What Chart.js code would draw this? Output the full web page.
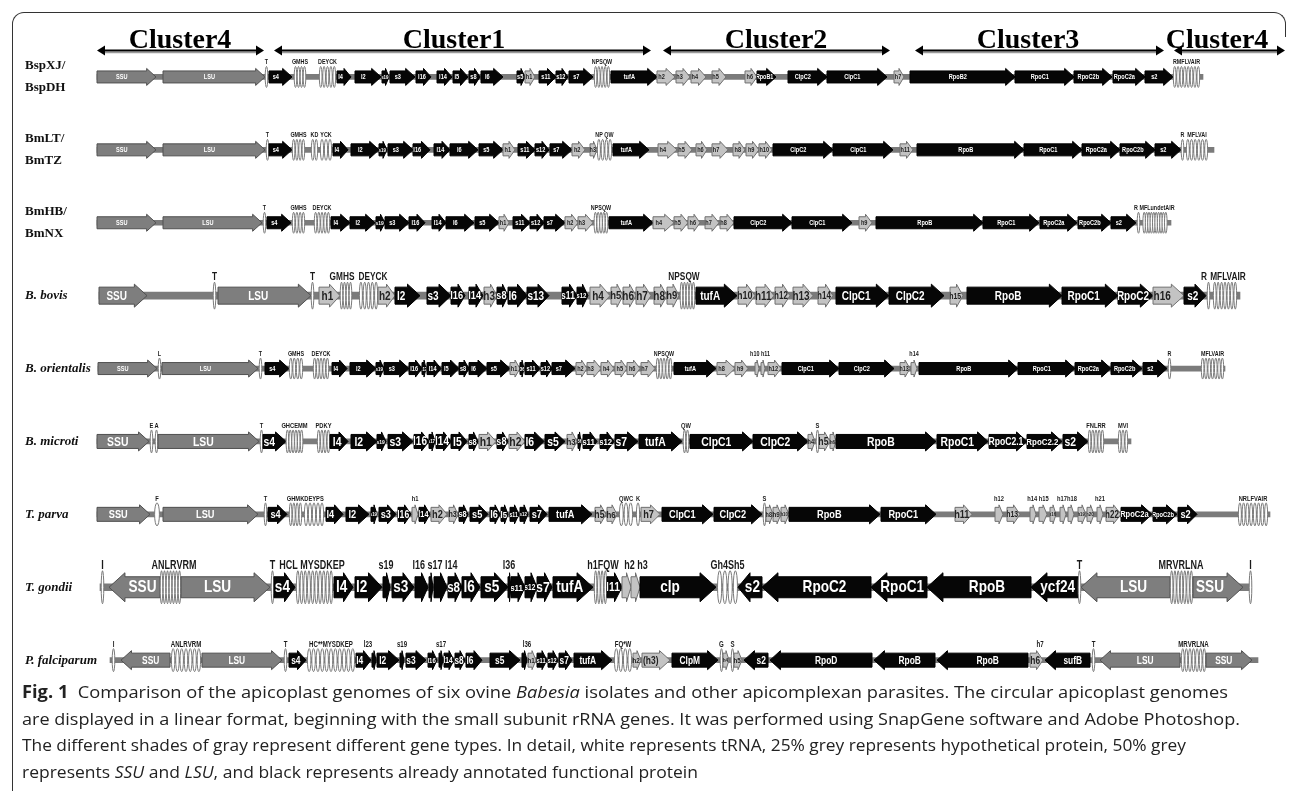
<!DOCTYPE html>
<html>
<head>
<meta charset="utf-8">
<script src="https://cdn.jsdelivr.net/npm/chart.js@4.4.1/dist/chart.umd.min.js"></script>
<style>
  html, body { margin: 0; padding: 0; background: #fff; }
  body { width: 1292px; height: 791px; position: relative; overflow: hidden; }
  #frameTop { position: absolute; left: 12px; top: 12px; width: 1272px; height: 24px; border: 1.5px solid #333; border-bottom: none; border-radius: 12px 12px 0 0; }
  #frameLeft { position: absolute; left: 12px; top: 30px; width: 0; height: 780px; border-left: 1.5px solid #333; }
  #wrap { position: absolute; left: 0; top: 0; width: 1292px; height: 700px; }
  #cap { position: absolute; left: 22px; top: 679px; font-family: "Open Sans", "Noto Sans", sans-serif; font-size: 17px; line-height: 26.5px; color: #222; }
  #cap div { white-space: nowrap; transform-origin: 0 50%; }
</style>
</head>
<body>
<div id="frameTop"></div>
<div id="frameLeft"></div>
<div id="wrap"><canvas id="map" width="1292" height="700"></canvas></div>
<div id="cap">
  <div><b>Fig. 1</b>&nbsp;&nbsp;Comparison of the apicoplast genomes of six ovine <i>Babesia</i> isolates and other apicomplexan parasites. The circular apicoplast genomes</div>
  <div>are displayed in a linear format, beginning with the small subunit rRNA genes. It was performed using SnapGene software and Adobe Photoshop.</div>
  <div>The different shades of gray represent different gene types. In detail, white represents tRNA, 25% grey represents hypothetical protein, 50% grey</div>
  <div>represents <i>SSU</i> and <i>LSU</i>, and black represents already annotated functional protein</div>
</div>
<script>
(function () {

  // ---- data (positions in map units) ----
  var rowLabels = [['BspXJ/', 'BspDH'], ['BmLT/', 'BmTZ'], ['BmHB/', 'BmNX'],
    'B. bovis', 'B. orientalis', 'B. microti', 'T. parva', 'T. gondii', 'P. falciparum'];

  var clusterNames = ['Cluster4', 'Cluster1', 'Cluster2', 'Cluster3', 'Cluster4'];
  var clusterStarts = [97, 274, 663, 915, 1174];
  var clusterEnds = [264, 651, 890, 1164, 1285];
  var clusterLabelAt = [180, 454, 776, 1028, 1217];

  // backbone extent per row
  var rowSpans = [[97, 1203], [97, 1214], [97, 1171], [99, 1240], [98, 1225],
    [97, 1131], [97, 1270], [100, 1251], [110, 1258]];

  // [name, start, end, type, strand|count, 'n' = name given in the notes above | label centre]
  // type: r = rRNA, k = annotated protein, h = hypothetical, t = tRNA group
  var gBspXJ = [
    ['SSU', 97, 156, 'r', 1], ['LSU', 163, 265, 'r', 1], ['T', 265, 268, 't', 1],
    ['s4', 269, 292, 'k', 1], ['GMHS', 294, 306, 't', 4], ['DEYCK', 319, 336, 't', 5],
    ['l4', 337, 351, 'k', 1], ['l2', 355, 381, 'k', 1], ['s19', 382, 389, 'k', 1],
    ['s3', 390, 415, 'k', 1], ['l16', 416, 431, 'k', 1], ['l14', 437, 452, 'k', 1],
    ['l5', 453, 468, 'k', 1], ['s8', 469, 480, 'k', 1], ['l6', 481, 503, 'k', 1],
    ['s5', 517, 525, 'k', 1], ['h1', 525, 535, 'h', 1], ['s11', 539, 556, 'k', 1],
    ['s12', 556, 568, 'k', 1], ['s7', 569, 593, 'k', 1], ['NPSQW', 594, 610, 't', 5],
    ['tufA', 611, 657, 'k', 1], ['h2', 657, 675, 'h', 1], ['h3', 676, 690, 'h', 1],
    ['h4', 691, 706, 'h', 1], ['h5', 712, 726, 'h', 1], ['h6', 745, 757, 'h', 1],
    ['RpoB1', 757, 776, 'k', 1], ['ClpC2', 788, 827, 'k', 1], ['ClpC1', 827, 887, 'k', 1],
    ['h7', 894, 904, 'h', 1], ['RpoB2', 910, 1015, 'k', 1], ['RpoC1', 1015, 1074, 'k', 1],
    ['RpoC2b', 1074, 1112, 'k', 1], ['RpoC2a', 1113, 1145, 'k', 1], ['s2', 1145, 1173, 'k', 1],
    ['RMFLVAIR', 1173, 1200, 't', 8]
  ];
  var gBmLT = [
    ['SSU', 97, 156, 'r', 1], ['LSU', 163, 265, 'r', 1], ['T', 266, 269, 't', 1],
    ['s4', 269, 292, 'k', 1], ['GMHS', 292, 305, 't', 4], ['KD', 311, 318, 't', 2],
    ['YCK', 320, 332, 't', 3], ['l4', 333, 348, 'k', 1], ['l2', 351, 379, 'k', 1],
    ['s19', 379, 387, 'k', 1], ['s3', 388, 413, 'k', 1], ['l16', 413, 430, 'k', 1],
    ['l14', 434, 450, 'k', 1], ['l6', 450, 478, 'k', 1], ['s5', 479, 503, 'k', 1],
    ['h1', 503, 515, 'h', 1], ['s11', 518, 535, 'k', 1], ['s12', 535, 549, 'k', 1],
    ['s7', 550, 572, 'k', 1], ['h2', 572, 585, 'h', 1], ['h3', 590, 597, 'h', 1],
    ['NP QW', 597, 612, 't', 4], ['tufA', 613, 649, 'k', 1], ['h4', 658, 677, 'h', 1],
    ['h5', 678, 692, 'h', 1], ['h6', 696, 707, 'h', 1], ['h7', 712, 728, 'h', 1],
    ['h8', 733, 745, 'h', 1], ['h9', 746, 759, 'h', 1], ['h10', 759, 772, 'h', 1],
    ['ClpC2', 773, 833, 'k', 1], ['ClpC1', 833, 893, 'k', 1], ['h11', 900, 913, 'h', 1],
    ['RpoB', 917, 1024, 'k', 1], ['RpoC1', 1024, 1082, 'k', 1], ['RpoC2a', 1082, 1120, 'k', 1],
    ['RpoC2b', 1120, 1155, 'k', 1], ['s2', 1155, 1181, 'k', 1], ['R', 1181, 1184, 't', 1],
    ['MFLVAI', 1186, 1208, 't', 6]
  ];
  var gBmHB = [
    ['SSU', 97, 156, 'r', 1], ['LSU', 163, 262, 'r', 1], ['T', 263, 266, 't', 1],
    ['s4', 267, 291, 'k', 1], ['GMHS', 292, 305, 't', 4], ['DEYCK', 314, 330, 't', 5],
    ['l4', 331, 350, 'k', 1], ['l2', 350, 375, 'k', 1], ['s19', 376, 385, 'k', 1],
    ['s3', 385, 409, 'k', 1], ['l16', 409, 425, 'k', 1], ['l14', 432, 446, 'k', 1],
    ['l6', 446, 474, 'k', 1], ['s5', 475, 499, 'k', 1], ['h1', 499, 509, 'h', 1],
    ['s11', 513, 530, 'k', 1], ['s12', 530, 544, 'k', 1], ['s7', 544, 565, 'k', 1],
    ['h2', 565, 578, 'h', 1], ['h3', 578, 593, 'h', 1], ['NPSQW', 594, 608, 't', 5],
    ['tufA', 609, 653, 'k', 1], ['h4', 653, 674, 'h', 1], ['h5', 674, 688, 'h', 1],
    ['h6', 688, 700, 'h', 1], ['h7', 705, 719, 'h', 1], ['h8', 720, 734, 'h', 1],
    ['ClpC2', 734, 792, 'k', 1], ['ClpC1', 792, 852, 'k', 1], ['h9', 859, 872, 'h', 1],
    ['RpoB', 876, 983, 'k', 1], ['RpoC1', 983, 1039, 'k', 1], ['RpoC2a', 1040, 1077, 'k', 1],
    ['RpoC2b', 1078, 1111, 'k', 1], ['s2', 1111, 1136, 'k', 1], ['R', 1137, 1140, 't', 1, 1136],
    ['MFLundetAIR', 1143, 1167, 't', 10, 1157]
  ];
  var gBbovis = [
    ['SSU', 99, 147, 'r', 1], ['T', 213, 216, 't', 1], ['LSU', 218, 311, 'r', 1],
    ['T', 311, 314, 't', 1], ['h1', 319, 340, 'h', 1], ['GMHS', 340, 352, 't', 4, 342],
    ['DEYCK', 359, 378, 't', 5, 373], ['h2', 378, 395, 'h', 1], ['l2', 395, 420, 'k', 1],
    ['s3', 427, 451, 'k', 1], ['l16', 451, 465, 'k', 1], ['l14', 469, 483, 'k', 1],
    ['h3', 484, 497, 'h', 1], ['s8', 497, 508, 'k', 1], ['l6', 508, 527, 'k', 1],
    ['s13', 527, 549, 'k', 1], ['s11', 562, 577, 'k', 1], ['s12', 577, 588, 'k', 1],
    ['h4', 590, 610, 'h', 1], ['h5', 611, 623, 'h', 1], ['h6', 623, 636, 'h', 1],
    ['h7', 636, 651, 'h', 1], ['h8', 654, 667, 'h', 1], ['h9', 667, 679, 'h', 1],
    ['NPSQW', 680, 695, 't', 5, 684], ['tufA', 696, 737, 'k', 1], ['h10', 738, 755, 'h', 1],
    ['h11', 756, 774, 'h', 1], ['h12', 775, 790, 'h', 1], ['h13', 793, 813, 'h', 1],
    ['h14', 818, 833, 'h', 1], ['ClpC1', 836, 889, 'k', 1], ['ClpC2', 889, 944, 'k', 1],
    ['h15', 950, 963, 'h', 1], ['RpoB', 967, 1062, 'k', 1], ['RpoC1', 1062, 1118, 'k', 1],
    ['RpoC2', 1118, 1153, 'k', 1], ['h16', 1153, 1184, 'h', 1], ['s2', 1184, 1206, 'k', 1],
    ['R', 1207, 1210, 't', 1, 1204], ['MFLVAIR', 1213, 1237, 't', 7, 1228]
  ];
  var gBorient = [
    ['SSU', 98, 157, 'r', 1], ['L', 158, 161, 't', 1], ['LSU', 162, 258, 'r', 1],
    ['T', 259, 262, 't', 1], ['s4', 265, 289, 'k', 1], ['GMHS', 289, 303, 't', 4],
    ['DEYCK', 313, 329, 't', 5], ['l4', 332, 347, 'k', 1], ['l2', 350, 376, 'k', 1],
    ['s19', 376, 384, 'k', 1], ['s3', 384, 409, 'k', 1], ['l16', 409, 422, 'k', 1],
    ['s17', 422, 426, 'k', 1], ['l14', 427, 441, 'k', 1], ['l5', 442, 459, 'k', 1],
    ['s8', 459, 469, 'k', 1], ['l6', 469, 487, 'k', 1], ['s5', 487, 510, 'k', 1],
    ['h1', 510, 520, 'h', 1], ['l36', 520, 524, 'k', 1], ['s11', 525, 540, 'k', 1],
    ['s12', 541, 552, 'k', 1], ['s7', 552, 575, 'k', 1], ['h2', 576, 587, 'h', 1],
    ['h3', 587, 601, 'h', 1], ['h4', 601, 614, 'h', 1], ['h5', 615, 627, 'h', 1],
    ['h6', 627, 640, 'h', 1], ['h7', 641, 655, 'h', 1], ['NPSQW', 656, 672, 't', 5],
    ['tufA', 674, 716, 'k', 1], ['h8', 717, 735, 'h', 1], ['h9', 735, 748, 'h', 1],
    ['h10', 755, 759, 'h', 1, 'n'], ['h11', 761, 765, 'h', 1, 'n'], ['h12', 768, 781, 'h', 1],
    ['ClpC1', 782, 839, 'k', 1], ['ClpC2', 839, 894, 'k', 1], ['h13', 900, 910, 'h', 1],
    ['h14', 911, 917, 'h', 1, 'n'], ['RpoB', 919, 1018, 'k', 1], ['RpoC1', 1018, 1075, 'k', 1],
    ['RpoC2a', 1075, 1111, 'k', 1], ['RpoC2b', 1111, 1142, 'k', 1], ['s2', 1143, 1167, 'k', 1],
    ['R', 1168, 1171, 't', 1], ['MFLVAIR', 1201, 1224, 't', 7]
  ];
  var gBmicroti = [
    ['SSU', 97, 149, 'r', 1], ['E', 150, 153, 't', 1], ['A', 155, 158, 't', 1],
    ['LSU', 158, 259, 'r', 1], ['T', 260, 263, 't', 1], ['s4', 263, 286, 'k', 1],
    ['GHCEMM', 286, 303, 't', 6], ['PDKY', 317, 330, 't', 4], ['l4', 330, 348, 'k', 1],
    ['l2', 351, 377, 'k', 1], ['s19', 377, 386, 'k', 1], ['s3', 388, 413, 'k', 1],
    ['l16', 414, 429, 'k', 1], ['s17', 429, 435, 'k', 1], ['l14', 436, 451, 'k', 1],
    ['l5', 451, 467, 'k', 1], ['s8', 469, 478, 'k', 1], ['h1', 479, 496, 'h', 1],
    ['s8', 497, 508, 'k', 1], ['h2', 509, 525, 'h', 1], ['l6', 525, 544, 'k', 1],
    ['s5', 545, 565, 'k', 1], ['h3', 567, 577, 'h', 1], ['l36', 578, 581, 'k', 1],
    ['s11', 583, 597, 'k', 1], ['s12', 600, 614, 'k', 1], ['s7', 615, 638, 'k', 1],
    ['tufA', 639, 682, 'k', 1], ['QW', 683, 689, 't', 2], ['ClpC1', 690, 753, 'k', 1],
    ['ClpC2', 753, 808, 'k', 1], ['h4', 808, 815, 'h', 1], ['S', 816, 819, 't', 1],
    ['h5', 819, 830, 'h', 1], ['h6', 830, 836, 'h', 1], ['RpoB', 836, 936, 'k', 1],
    ['RpoC1', 937, 988, 'k', 1], ['RpoC2.1', 989, 1027, 'k', 1], ['RpoC2.2', 1027, 1062, 'k', 1],
    ['s2', 1063, 1088, 'k', 1], ['FNLRR', 1088, 1104, 't', 5], ['MVI', 1118, 1128, 't', 3]
  ];
  var gTparva = [
    ['SSU', 97, 150, 'r', 1], ['F', 154, 160, 't', 1], ['LSU', 163, 258, 'r', 1],
    ['T', 264, 267, 't', 1], ['s4', 268, 287, 'k', 1], ['GHMK', 289, 302, 't', 4],
    ['DEYPS', 304, 324, 't', 5], ['l4', 326, 343, 'k', 1], ['l2', 346, 369, 'k', 1],
    ['s19', 371, 377, 'k', 1], ['s3', 379, 396, 'k', 1], ['l16', 398, 411, 'k', 1],
    ['h1', 412, 418, 'h', 1, 'n'], ['l14', 419, 430, 'k', 1], ['h2', 431, 447, 'h', 1],
    ['h3', 449, 458, 'h', 1], ['s8', 459, 468, 'k', 1], ['s5', 470, 488, 'k', 1],
    ['l6', 490, 500, 'k', 1], ['l5', 501, 508, 'k', 1], ['s11', 510, 519, 'k', 1],
    ['s12', 520, 528, 'k', 1], ['s7', 530, 547, 'k', 1], ['tufA', 549, 592, 'k', 1],
    ['h5', 595, 606, 'h', 1], ['h6', 607, 617, 'h', 1], ['QWC', 619, 633, 't', 3],
    ['K', 636, 640, 't', 1], ['h7', 641, 660, 'h', 1], ['ClpC1', 662, 713, 'k', 1],
    ['ClpC2', 714, 762, 'k', 1], ['S', 763, 766, 't', 1], ['h8', 766, 773, 'h', 1],
    ['h9', 773, 781, 'h', 1], ['h10', 781, 789, 'h', 1], ['RpoB', 789, 880, 'k', 1],
    ['RpoC1', 881, 936, 'k', 1], ['h11', 955, 972, 'h', 1], ['h12', 995, 1003, 'h', 1, 'n'],
    ['h13', 1007, 1020, 'h', 1], ['h14', 1030, 1036, 'h', 1, 'n'], ['h15', 1039, 1047, 'h', 1, 'n'],
    ['h16', 1050, 1056, 'h', 1], ['h17', 1060, 1066, 'h', 1, 'n'], ['h18', 1068, 1074, 'h', 1, 'n'],
    ['h19', 1078, 1086, 'h', 1], ['h20', 1087, 1094, 'h', 1], ['h21', 1097, 1103, 'h', 1, 'n'],
    ['h22', 1106, 1121, 'h', 1], ['RpoC2a', 1121, 1152, 'k', 1], ['RpoC2b', 1153, 1177, 'k', 1],
    ['s2', 1178, 1197, 'k', 1], ['NRLFVAIR', 1238, 1268, 't', 8]
  ];
  var gTgondii = [
    ['I', 101, 104, 't', 1], ['SSU', 109, 160, 'r', -1], ['ANLRVRM', 160, 181, 't', 7, 174],
    ['LSU', 181, 270, 'r', 1], ['T', 271, 274, 't', 1], ['s4', 274, 295, 'k', 1],
    ['HCL MYSDKEP', 296, 333, 't', 10, 312], ['l4', 334, 353, 'k', 1],
    ['l2', 355, 382, 'k', 1], ['s19', 383, 390, 'k', 1, 'n'], ['s3', 392, 414, 'k', 1],
    ['l16', 415, 428, 'k', 1, 'n'], ['s17', 429, 433, 'k', 1, 'n'], ['l14', 434, 447, 'k', 1, 'n'],
    ['s8', 448, 462, 'k', 1], ['l6', 462, 480, 'k', 1], ['s5', 481, 508, 'k', 1],
    ['l36', 508, 511, 'k', 1, 'n'], ['s11', 511, 525, 'k', 1], ['s12', 525, 537, 'k', 1],
    ['s7', 537, 552, 'k', 1], ['tufA', 553, 593, 'k', 1], ['h1FQW', 594, 607, 't', 4, 603],
    ['l11', 607, 622, 'k', 1], ['h2', 622, 631, 'h', 1, 'n'], ['h3', 631, 640, 'h', 1, 'n'],
    ['clp', 640, 716, 'k', 1], ['Gh4Sh5', 717, 738, 't', 4], ['s2', 738, 762, 'k', -1],
    ['RpoC2', 762, 871, 'k', -1], ['RpoC1', 871, 927, 'k', -1], ['RpoB', 927, 1031, 'k', -1],
    ['ycf24', 1031, 1078, 'k', -1], ['T', 1078, 1081, 't', 1], ['LSU', 1081, 1170, 'r', -1],
    ['MRVRLNA', 1170, 1193, 't', 7, 1181], ['SSU', 1193, 1243, 'r', 1], ['I', 1249, 1252, 't', 1]
  ];
  var gPfal = [
    ['I', 112, 115, 't', 1], ['SSU', 121, 170, 'r', -1], ['ANLRVRM', 171, 201, 't', 7],
    ['LSU', 202, 282, 'r', 1], ['T', 284, 287, 't', 1], ['s4', 289, 306, 'k', 1],
    ['HC**MYSDKEP', 307, 355, 't', 11], ['l4', 356, 371, 'k', 1], ['l23', 372, 376, 'k', 1, 'n'],
    ['l2', 377, 399, 'k', 1], ['s19', 400, 404, 'k', 1, 'n'], ['s3', 406, 426, 'k', 1],
    ['l16', 428, 437, 'k', 1], ['s17', 439, 443, 'k', 1, 'n'], ['l14', 444, 454, 'k', 1],
    ['s8', 455, 465, 'k', 1], ['l6', 466, 482, 'k', 1], ['s5', 490, 520, 'k', 1],
    ['l36', 522, 527, 'k', 1, 'n'], ['h1', 528, 536, 'h', 1], ['s11', 537, 547, 'k', 1],
    ['s12', 548, 558, 'k', 1], ['s7', 559, 572, 'k', 1], ['tufA', 574, 612, 'k', 1],
    ['FQ*W', 614, 632, 't', 4], ['h2', 633, 641, 'h', 1], ['(h3)', 642, 670, 'h', 1],
    ['ClpM', 672, 718, 'k', 1], ['G', 720, 723, 't', 1], ['h4', 723, 729, 'h', 1],
    ['S', 731, 734, 't', 1], ['h5', 734, 742, 'h', 1], ['s2', 744, 768, 'k', -1],
    ['RpoD', 770, 872, 'k', -1], ['RpoB', 874, 935, 'k', -1], ['RpoB', 937, 1028, 'k', -1],
    ['h6', 1030, 1043, 'h', 1], ['sufB', 1045, 1090, 'k', -1], ['T', 1092, 1095, 't', 1],
    ['LSU', 1100, 1180, 'r', -1], ['MRVRLNA', 1181, 1206, 't', 7], ['SSU', 1206, 1252, 'r', 1]
  ];
  var geneRows = [gBspXJ, gBmLT, gBmHB, gBbovis, gBorient, gBmicroti, gTparva, gTgondii, gPfal];

  // extra names written above the track: [text, centre]
  var notesBorient = [['h10 h11', 760], ['h14', 914]];
  var notesTparva = [['h1', 415], ['h12', 999], ['h14 h15', 1038], ['h17h18', 1067], ['h21', 1100]];
  var notesTgondii = [['s19', 386], ['l16 s17 l14', 435], ['l36', 509], ['h2 h3', 636]];
  var notesPfal = [['l23', 368], ['s19', 402], ['s17', 441], ['l36', 527], ['h7', 1040]];
  var rowNotes = [[], [], [], [], notesBorient, [], notesTparva, notesTgondii, notesPfal];

  // ---- styles ----
  var rowStyle = [
    { body: 12, head: 17, font: 7, tfont: 7.5, bb: 5 },
    { body: 12, head: 17, font: 7, tfont: 7.5, bb: 5 },
    { body: 12, head: 17, font: 7, tfont: 7.5, bb: 5 },
    { body: 17, head: 23, font: 12.5, tfont: 11.5, bb: 6 },
    { body: 12, head: 17, font: 7, tfont: 7.5, bb: 5 },
    { body: 14, head: 19, font: 13, tfont: 8, bb: 5 },
    { body: 14, head: 19, font: 11.5, tfont: 8, bb: 5 },
    { body: 21, head: 29, font: 17, tfont: 12.5, bb: 6 },
    { body: 14, head: 19, font: 10.5, tfont: 8.5, bb: 5 }
  ];
  var fillOf = { k: '#060606', h: '#c3c3c3', r: '#7e7e7e' };
  var strokeOf = { k: '#000', h: '#707070', r: '#505050' };
  var textOf = { k: '#fff', h: '#222', r: '#fff' };
  var geneFont = '"Liberation Sans", Arial, sans-serif';
  var squeezeIn = 0.8, squeezeUp = 0.72;

  function condensedText(ctx, txt, x, y, size, color, align, base, sq) {
    ctx.save();
    ctx.font = 'bold ' + size + 'px ' + geneFont;
    ctx.fillStyle = color;
    ctx.textAlign = align;
    ctx.textBaseline = base;
    ctx.translate(x, y);
    ctx.scale(sq, 1);
    ctx.fillText(txt, 0, 0);
    ctx.restore();
  }

  function drawTrna(ctx, xs, x1, x2, yc, g, st) {
    var n = g[4] || 1;
    var w = (x2 - x1) / n;
    var rx = Math.max(1.3, Math.min(w * 0.4, 2.6));
    var ry = st.head / 2 + 2;
    ctx.fillStyle = '#fff';
    ctx.strokeStyle = '#7a7a7a';
    ctx.lineWidth = 1;
    for (var k = 0; k < n; k++) {
      var cx = x1 + (k + 0.5) * w;
      ctx.beginPath();
      ctx.ellipse(cx, yc, rx, ry, 0, 0, Math.PI * 2);
      ctx.fill();
      ctx.stroke();
    }
    var lx = typeof g[5] === 'number' ? xs.getPixelForValue(g[5]) : (x1 + x2) / 2;
    condensedText(ctx, g[0], lx, yc - ry - 2, st.tfont, '#1a1a1a', 'center', 'alphabetic', squeezeUp);
  }

  function drawGene(ctx, xs, yc, g, st) {
    var x1 = xs.getPixelForValue(g[1]);
    var x2 = xs.getPixelForValue(g[2]);
    var type = g[3];
    if (type === 't') { drawTrna(ctx, xs, x1, x2, yc, g, st); return; }
    var dir = g[4];
    var w = x2 - x1;
    var bh = st.body / 2, hh = st.head / 2;
    var L = Math.min(st.head * 0.55, w * 0.5);
    ctx.beginPath();
    if (dir > 0) {
      ctx.moveTo(x1, yc - bh); ctx.lineTo(x2 - L, yc - bh); ctx.lineTo(x2 - L, yc - hh);
      ctx.lineTo(x2, yc); ctx.lineTo(x2 - L, yc + hh); ctx.lineTo(x2 - L, yc + bh);
      ctx.lineTo(x1, yc + bh);
    } else {
      ctx.moveTo(x2, yc - bh); ctx.lineTo(x1 + L, yc - bh); ctx.lineTo(x1 + L, yc - hh);
      ctx.lineTo(x1, yc); ctx.lineTo(x1 + L, yc + hh); ctx.lineTo(x1 + L, yc + bh);
      ctx.lineTo(x2, yc + bh);
    }
    ctx.closePath();
    ctx.fillStyle = fillOf[type];
    ctx.fill();
    ctx.strokeStyle = strokeOf[type];
    ctx.lineWidth = 1;
    ctx.stroke();

    if (g[5] === 'n') return;
    // label inside the arrow, shrunk to fit, clipped to the arrow
    var bodyL = dir > 0 ? x1 : x1 + L;
    var bodyR = dir > 0 ? x2 - L : x2;
    var size = st.font;
    ctx.font = 'bold ' + size + 'px ' + geneFont;
    var tw = ctx.measureText(g[0]).width * squeezeIn;
    var avail = w * 0.92;
    if (tw > avail) {
      size = Math.max(5.5, size * avail / tw);
      ctx.font = 'bold ' + size + 'px ' + geneFont;
      tw = ctx.measureText(g[0]).width * squeezeIn;
    }
    var cx = (tw < (bodyR - bodyL) * 0.95) ? (bodyL + bodyR) / 2 : (x1 + x2) / 2 - dir * L * 0.2;
    ctx.save();
    ctx.beginPath();
    ctx.rect(x1, yc - hh, w, hh * 2);
    ctx.clip();
    condensedText(ctx, g[0], cx, yc + 0.5, size, textOf[type], 'center', 'middle', squeezeIn);
    ctx.restore();
  }

  var genomePlugin = {
    id: 'genomeMap',
    afterDatasetsDraw: function (chart) {
      var ctx = chart.ctx, xs = chart.scales.x, ys = chart.scales.y;
      ctx.save();
      geneRows.forEach(function (genes, i) {
        var yc = ys.getPixelForValue(i);
        var st = rowStyle[i];
        genes.forEach(function (g) { drawGene(ctx, xs, yc, g, st); });
        rowNotes[i].forEach(function (nt) {
          condensedText(ctx, nt[0], xs.getPixelForValue(nt[1]), yc - st.head / 2 - 4, st.tfont, '#1a1a1a', 'center', 'alphabetic', squeezeUp);
        });
      });
      ctx.restore();
    }
  };

  var rowLabelPlugin = {
    id: 'rowLabels',
    afterDraw: function (chart) {
      var ctx = chart.ctx, ys = chart.scales.y;
      ctx.save();
      ctx.fillStyle = '#111';
      ctx.textAlign = 'left';
      ctx.textBaseline = 'middle';
      chart.data.labels.forEach(function (lab, i) {
        var yc = ys.getPixelForValue(i);
        if (Array.isArray(lab)) {
          ctx.font = 'bold 13px "Liberation Serif", "Times New Roman", serif';
          ctx.fillText(lab[0], 25, yc - 11);
          ctx.fillText(lab[1], 25, yc + 11);
        } else {
          ctx.font = 'italic bold 13px "Liberation Serif", "Times New Roman", serif';
          ctx.fillText(lab, 25, yc);
        }
      });
      ctx.restore();
    }
  };

  var clusterPlugin = {
    id: 'clusters',
    afterDraw: function (chart) {
      var ctx = chart.ctx, xs = chart.scales.x;
      var ya = chart.chartArea.top + 10;
      ctx.save();
      clusterNames.forEach(function (name, i) {
        var a = xs.getPixelForValue(clusterStarts[i]);
        var b = xs.getPixelForValue(clusterEnds[i]);
        ctx.strokeStyle = '#9a9a9a';
        ctx.lineWidth = 1.5;
        ctx.beginPath(); ctx.moveTo(a + 6, ya + 2); ctx.lineTo(b - 6, ya + 2); ctx.stroke();
        ctx.strokeStyle = '#000';
        ctx.lineWidth = 2;
        ctx.beginPath(); ctx.moveTo(a + 6, ya); ctx.lineTo(b - 6, ya); ctx.stroke();
        ctx.fillStyle = '#000';
        ctx.beginPath(); ctx.moveTo(a, ya); ctx.lineTo(a + 8, ya - 5); ctx.lineTo(a + 8, ya + 5); ctx.closePath(); ctx.fill();
        ctx.beginPath(); ctx.moveTo(b, ya); ctx.lineTo(b - 8, ya - 5); ctx.lineTo(b - 8, ya + 5); ctx.closePath(); ctx.fill();
        ctx.font = 'bold 28px "Liberation Serif", "Times New Roman", serif';
        ctx.textAlign = 'center';
        ctx.textBaseline = 'alphabetic';
        ctx.fillText(name, xs.getPixelForValue(clusterLabelAt[i]), ya - 3);
      });
      ctx.restore();
    }
  };

  var backboneThin = rowSpans.map(function (s, i) { return rowStyle[i].bb < 6 ? s : null; });
  var backboneThick = rowSpans.map(function (s, i) { return rowStyle[i].bb >= 6 ? s : null; });

  new Chart(document.getElementById('map'), {
    type: 'bar',
    data: {
      labels: rowLabels,
      datasets: [
        { label: 'backbone', data: backboneThin, backgroundColor: '#7b7b7b', barThickness: 5, grouped: false },
        { label: 'backbone2', data: backboneThick, backgroundColor: '#7b7b7b', barThickness: 7, grouped: false }
      ]
    },
    options: {
      indexAxis: 'y',
      responsive: false,
      animation: false,
      events: [],
      layout: { padding: { left: 25, right: 12, top: 40.5, bottom: 3.4 } },
      plugins: { legend: { display: false }, tooltip: { enabled: false } },
      scales: {
        x: { type: 'linear', min: 90, max: 1280, display: false },
        y: {
          type: 'category',
          offset: true,
          grid: { display: false },
          border: { display: false },
          ticks: { display: false },
          afterFit: function (s) { s.width = 65; }
        }
      }
    },
    plugins: [genomePlugin, rowLabelPlugin, clusterPlugin]
  });

  // stretch caption lines to the widths they have in the figure
  var capTargets = [1206, 1218, 1164, 676];
  document.querySelectorAll('#cap div').forEach(function (d, i) {
    var span = document.createElement('span');
    span.innerHTML = d.innerHTML;
    d.innerHTML = '';
    d.appendChild(span);
    var nat = span.getBoundingClientRect().width;
    d.style.transform = 'scaleX(' + (capTargets[i] / nat) + ')';
  });
})();
</script>
</body>
</html>
